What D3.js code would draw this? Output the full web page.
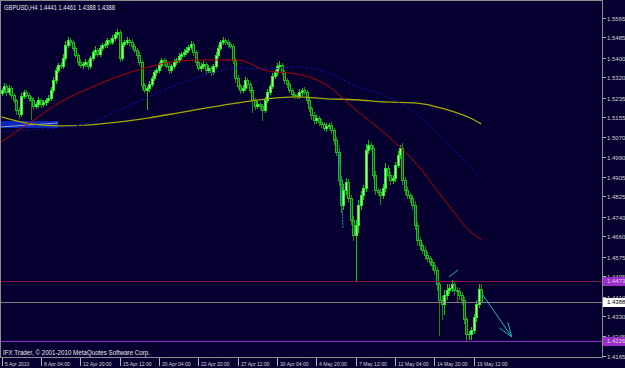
<!DOCTYPE html>
<html>
<head>
<meta charset="utf-8">
<script src="https://cdn.jsdelivr.net/npm/d3@7"></script>
<style>
html, body { margin: 0; padding: 0; background: #060030; overflow: hidden; }
svg { display: block; }
text { font-family: "Liberation Sans", Arial, sans-serif; }
</style>
</head>
<body>
<svg class="chart" width="625" height="368"></svg>
<script>
// GBPUSD H4, 5 Apr 2010 12:00 .. 20 May 2010 00:00
var opens = [
  1.5255, 1.5267, 1.5284, 1.5259, 1.5275, 1.5246, 1.5226, 1.5184, 1.5168, 1.5242,
  1.5259, 1.5246, 1.5234, 1.5226, 1.5201, 1.5209, 1.5226, 1.5209, 1.5217, 1.5226,
  1.5234, 1.5267, 1.5308, 1.5350, 1.5371, 1.5366, 1.5399, 1.5453, 1.5474, 1.5466,
  1.5441, 1.5412, 1.5383, 1.5371, 1.5375, 1.5383, 1.5366, 1.5399, 1.5424, 1.5433,
  1.5416, 1.5441, 1.5453, 1.5457, 1.5474, 1.5466, 1.5482, 1.5499, 1.5507, 1.5399,
  1.5457, 1.5466, 1.5474, 1.5466, 1.5449, 1.5433, 1.5412, 1.5383, 1.5288, 1.5267,
  1.5275, 1.5292, 1.5317, 1.5341, 1.5350, 1.5371, 1.5391, 1.5383, 1.5366, 1.5350,
  1.5366, 1.5383, 1.5391, 1.5408, 1.5416, 1.5424, 1.5433, 1.5445, 1.5457, 1.5424,
  1.5383, 1.5358, 1.5366, 1.5375, 1.5350, 1.5358, 1.5341, 1.5366, 1.5412, 1.5441,
  1.5466, 1.5474, 1.5466, 1.5457, 1.5449, 1.5391, 1.5317, 1.5284, 1.5267, 1.5275,
  1.5308, 1.5292, 1.5267, 1.5226, 1.5201, 1.5209, 1.5201, 1.5184, 1.5226, 1.5259,
  1.5284, 1.5325, 1.5341, 1.5366, 1.5371, 1.5341, 1.5308, 1.5292, 1.5267, 1.5250,
  1.5246, 1.5242, 1.5259, 1.5267, 1.5259, 1.5226, 1.5193, 1.5164, 1.5143, 1.5151,
  1.5135, 1.5126, 1.5110, 1.5118, 1.5122, 1.5101, 1.5060, 1.5010, 1.4894, 1.4791,
  1.4853, 1.4886, 1.4820, 1.4728, 1.4667, 1.4708, 1.4791, 1.4832, 1.4861, 1.5018,
  1.5039, 1.5027, 1.4915, 1.4853, 1.4845, 1.4832, 1.4861, 1.4944, 1.4915, 1.4894,
  1.4902, 1.4956, 1.4998, 1.5027, 1.4894, 1.4853, 1.4832, 1.4820, 1.4791, 1.4708,
  1.4646, 1.4625, 1.4604, 1.4584, 1.4571, 1.4555, 1.4542, 1.4522, 1.4460, 1.4397,
  1.4377, 1.4418, 1.4439, 1.4447, 1.4460, 1.4439, 1.4431, 1.4418, 1.4397, 1.4315,
  1.4253, 1.4253, 1.4273, 1.4323, 1.4377, 1.4441
];
var closes = [
  1.5267, 1.5284, 1.5259, 1.5275, 1.5246, 1.5226, 1.5184, 1.5168, 1.5242, 1.5259,
  1.5246, 1.5234, 1.5226, 1.5201, 1.5209, 1.5226, 1.5209, 1.5217, 1.5226, 1.5234,
  1.5267, 1.5308, 1.5350, 1.5371, 1.5366, 1.5399, 1.5453, 1.5474, 1.5466, 1.5441,
  1.5412, 1.5383, 1.5371, 1.5375, 1.5383, 1.5366, 1.5399, 1.5424, 1.5433, 1.5416,
  1.5441, 1.5453, 1.5457, 1.5474, 1.5466, 1.5482, 1.5499, 1.5507, 1.5399, 1.5457,
  1.5466, 1.5474, 1.5466, 1.5449, 1.5433, 1.5412, 1.5383, 1.5288, 1.5267, 1.5275,
  1.5292, 1.5317, 1.5341, 1.5350, 1.5371, 1.5391, 1.5383, 1.5366, 1.5350, 1.5366,
  1.5383, 1.5391, 1.5408, 1.5416, 1.5424, 1.5433, 1.5445, 1.5457, 1.5424, 1.5383,
  1.5358, 1.5366, 1.5375, 1.5350, 1.5358, 1.5341, 1.5366, 1.5412, 1.5441, 1.5466,
  1.5474, 1.5466, 1.5457, 1.5449, 1.5391, 1.5317, 1.5284, 1.5267, 1.5275, 1.5308,
  1.5292, 1.5267, 1.5226, 1.5201, 1.5209, 1.5201, 1.5184, 1.5226, 1.5259, 1.5284,
  1.5325, 1.5341, 1.5366, 1.5371, 1.5341, 1.5308, 1.5292, 1.5267, 1.5250, 1.5246,
  1.5242, 1.5259, 1.5267, 1.5259, 1.5226, 1.5193, 1.5164, 1.5143, 1.5151, 1.5135,
  1.5126, 1.5110, 1.5118, 1.5122, 1.5101, 1.5060, 1.5010, 1.4894, 1.4791, 1.4853,
  1.4886, 1.4820, 1.4728, 1.4667, 1.4708, 1.4791, 1.4832, 1.4861, 1.5018, 1.5039,
  1.5027, 1.4915, 1.4853, 1.4845, 1.4832, 1.4861, 1.4944, 1.4915, 1.4894, 1.4902,
  1.4956, 1.4998, 1.5027, 1.4894, 1.4853, 1.4832, 1.4820, 1.4791, 1.4708, 1.4646,
  1.4625, 1.4604, 1.4584, 1.4571, 1.4555, 1.4542, 1.4522, 1.4460, 1.4397, 1.4377,
  1.4418, 1.4439, 1.4447, 1.4460, 1.4439, 1.4431, 1.4418, 1.4397, 1.4315, 1.4253,
  1.4253, 1.4273, 1.4323, 1.4377, 1.4441, 1.4388
];
// wick lengths above / below the body, in pips
var wickUp = [
  8, 10, 6, 12, 7, 9, 5, 10, 14, 8,
  9, 6, 8, 12, 7, 10, 6, 9, 8, 11,
  10, 14, 12, 8, 10, 15, 18, 12, 9, 7,
  8, 6, 10, 9, 12, 7, 10, 8, 14, 9,
  11, 8, 13, 9, 10, 12, 9, 14, 8, 10,
  9, 12, 8, 10, 7, 9, 11, 6, 8, 10,
  12, 9, 10, 8, 11, 9, 7, 10, 12, 8,
  10, 9, 11, 8, 13, 10, 9, 14, 8, 7,
  9, 12, 10, 8, 11, 9, 10, 12, 14, 9,
  13, 8, 10, 9, 7, 8, 10, 9, 12, 11,
  8, 9, 10, 7, 12, 9, 8, 11, 10, 9,
  12, 9, 14, 16, 8, 10, 9, 7, 8, 10,
  9, 11, 8, 10, 7, 9, 8, 10, 12, 9,
  10, 8, 12, 9, 10, 8, 12, 10, 14, 22,
  16, 12, 10, 14, 18, 20, 15, 12, 24, 20,
  12, 10, 14, 9, 11, 15, 18, 12, 10, 13,
  12, 15, 12, 20, 10, 12, 9, 11, 14, 10,
  12, 9, 14, 10, 8, 12, 10, 9, 14, 16,
  18, 22, 14, 20, 12, 10, 14, 9, 12, 10,
  14, 12, 16, 18, 20, 20
];
var wickDn = [
  10, 8, 12, 9, 14, 10, 16, 17, 8, 10,
  9, 12, 80, 14, 10, 12, 15, 9, 12, 8,
  10, 7, 12, 9, 8, 10, 7, 9, 12, 8,
  10, 12, 8, 14, 9, 11, 8, 10, 12, 9,
  8, 10, 9, 12, 8, 10, 9, 11, 14, 10,
  9, 10, 12, 8, 10, 14, 12, 16, 10, 80,
  14, 10, 9, 12, 10, 8, 11, 9, 14, 10,
  8, 10, 9, 12, 7, 10, 8, 9, 11, 14,
  10, 12, 9, 14, 10, 12, 8, 9, 10, 8,
  9, 10, 12, 8, 14, 16, 10, 12, 9, 10,
  12, 10, 50, 14, 10, 12, 40, 9, 10, 8,
  10, 9, 12, 8, 10, 14, 12, 10, 9, 11,
  10, 9, 12, 10, 14, 12, 18, 16, 12, 14,
  12, 10, 14, 10, 12, 16, 14, 20, 30, 18,
  16, 20, 18, 24, 194, 30, 20, 16, 12, 14,
  10, 14, 18, 16, 40, 14, 12, 10, 16, 12,
  14, 10, 12, 16, 18, 14, 20, 16, 18, 22,
  16, 14, 18, 12, 14, 16, 20, 24, 145, 60,
  40, 20, 16, 14, 18, 40, 20, 16, 14, 27,
  18, 20, 16, 14, 12, 0
];

// moving averages, read every 12 bars
var maIdx    = [0, 12, 24, 36, 48, 60, 72, 84, 96, 108, 120, 132, 144, 156, 168, 180, 192, 195];
var maRed    = [1.5052, 1.5134, 1.5217, 1.5275, 1.5325, 1.5362, 1.5387, 1.5391, 1.5391, 1.5346, 1.5333, 1.5288, 1.5184, 1.5085, 1.4969, 1.4811, 1.4667, 1.4646];
var maBlue   = [1.5093, 1.5101, 1.5110, 1.5130, 1.5184, 1.5238, 1.5292, 1.5333, 1.5358, 1.5354, 1.5362, 1.5341, 1.5284, 1.5242, 1.5172, 1.5060, 1.4932, 1.4902];
var maYellow = [1.5155, 1.5126, 1.5118, 1.5122, 1.5134, 1.5151, 1.5172, 1.5193, 1.5213, 1.5230, 1.5238, 1.5230, 1.5226, 1.5217, 1.5213, 1.5188, 1.5143, 1.5126];

var timeIdx = [0, 16, 32, 48, 64, 80, 96, 112, 128, 144, 160, 176, 192];
var timeLabels = ["5 Apr 2010", "8 Apr 04:00", "12 Apr 20:00", "15 Apr 12:00", "20 Apr 04:00", "22 Apr 20:00",
  "27 Apr 12:00", "30 Apr 04:00", "4 May 20:00", "7 May 12:00", "12 May 04:00", "14 May 20:00", "19 May 12:00"];
var priceTicks = [1.5565, 1.5485, 1.5400, 1.5320, 1.5235, 1.5155, 1.5070, 1.4990, 1.4905, 1.4825,
  1.4740, 1.4660, 1.4575, 1.4495, 1.4410, 1.4330, 1.4245, 1.4165];

// drawn objects (bar index, price)
var hLevels = [1.4473, 1.4226];
var bidPrice = 1.4388;
var trendLines = [
  {i0: 137.2, p0: 1.5039, i1: 138.8, p1: 1.4694, dotted: true},
  {i0: 181.9, p0: 1.4491, i1: 185.6, p1: 1.4520, dotted: false}
];
var arrowLine = {i0: 195.7, p0: 1.4416, i1: 207.4, p1: 1.4243};
var boxObj = {i0: -0.6, i1: 23, p0: 1.5138, p1: 1.5109};

var svg = d3.select(".chart"),
    width = +svg.attr("width"),
    height = +svg.attr("height");

var bg = "#060030";
var plotR = 602, plotB = 357;

var x = d3.scaleLinear().domain([0, 195]).range([1.5, 481.2]);
var y = d3.scaleLinear().domain([1.4165, 1.5565]).range([355.6, 18]);

svg.append("rect").attr("width", width).attr("height", height).attr("fill", bg);

svg.append("clipPath").attr("id", "clip")
  .append("rect").attr("x", 1).attr("y", 1).attr("width", plotR - 1).attr("height", plotB - 1);

var plot = svg.append("g").attr("clip-path", "url(#clip)");

// rectangle object bottom-left
plot.append("rect")
  .attr("x", x(boxObj.i0)).attr("width", x(boxObj.i1) - x(boxObj.i0))
  .attr("y", y(boxObj.p0)).attr("height", y(boxObj.p1) - y(boxObj.p0))
  .attr("fill", "#0a28b4");
plot.append("line")
  .attr("x1", x(boxObj.i0)).attr("y1", y(boxObj.p1) - 1)
  .attr("x2", x(boxObj.i1)).attr("y2", y(boxObj.p0) + 2)
  .attr("stroke", "#8c96e6").attr("stroke-width", 1);

var bars = closes.map(function(c, i) {
  var o = opens[i];
  return {i: i, o: o, c: c,
    h: Math.max(o, c) + wickUp[i] / 10000,
    l: Math.min(o, c) - wickDn[i] / 10000};
});

function px(d) { return Math.round(x(d.i)); }

// wicks
plot.append("g").selectAll("line")
  .data(bars)
  .enter().append("line")
  .attr("x1", function(d) { return px(d) + 0.5; })
  .attr("x2", function(d) { return px(d) + 0.5; })
  .attr("y1", function(d) { return Math.round(y(d.h)); })
  .attr("y2", function(d) { return Math.round(y(d.l)) + 1; })
  .attr("stroke", function(d) { return d.c >= d.o ? "#00d000" : "#109010"; })
  .attr("shape-rendering", "crispEdges");

// bodies
var body = plot.append("g").selectAll("g")
  .data(bars)
  .enter().append("g");

function bodyTop(d) { return Math.round(y(Math.max(d.o, d.c))); }
function bodyH(d) { return Math.max(1, Math.round(y(Math.min(d.o, d.c))) - bodyTop(d) + 1); }

body.append("rect")
  .attr("x", function(d) { return px(d) - 1; })
  .attr("width", 3)
  .attr("y", bodyTop)
  .attr("height", bodyH)
  .attr("fill", function(d) { return d.c >= d.o ? "#22ee22" : "#28b428"; })
  .attr("shape-rendering", "crispEdges");

body.append("rect")
  .attr("x", function(d) { return px(d); })
  .attr("width", 1)
  .attr("y", function(d) { return bodyTop(d) + 1; })
  .attr("height", function(d) { return Math.max(0, bodyH(d) - 2); })
  .attr("fill", function(d) { return d.c >= d.o ? "#b4ffa8" : "#0b500b"; })
  .attr("shape-rendering", "crispEdges");

// moving averages
function maLine(vals) {
  return d3.line()
    .x(function(d, k) { return x(maIdx[k]); })
    .y(function(d) { return y(d); })
    .curve(d3.curveMonotoneX)(vals);
}

plot.append("path").attr("d", maLine(maYellow))
  .attr("fill", "none").attr("stroke", "#a8a800").attr("stroke-width", 1.3);
plot.append("path").attr("d", maLine(maBlue))
  .attr("fill", "none").attr("stroke", "#1010a8").attr("stroke-width", 1)
  .attr("stroke-dasharray", "3,2");
plot.append("path").attr("d", maLine(maRed))
  .attr("fill", "none").attr("stroke", "#b40000").attr("stroke-width", 1);

// horizontal levels
plot.append("line")
  .attr("x1", 0).attr("x2", plotR)
  .attr("y1", Math.round(y(hLevels[0])) + 0.5).attr("y2", Math.round(y(hLevels[0])) + 0.5)
  .attr("stroke", "#7a1840");
plot.append("line")
  .attr("x1", 0).attr("x2", plotR)
  .attr("y1", Math.round(y(hLevels[1])) + 0.5).attr("y2", Math.round(y(hLevels[1])) + 0.5)
  .attr("stroke", "#8c28c8");
plot.append("line")
  .attr("x1", 0).attr("x2", plotR)
  .attr("y1", Math.round(y(bidPrice)) + 0.5).attr("y2", Math.round(y(bidPrice)) + 0.5)
  .attr("stroke", "#808078");

// trend lines
trendLines.forEach(function(t) {
  plot.append("line")
    .attr("x1", x(t.i0)).attr("y1", y(t.p0))
    .attr("x2", x(t.i1)).attr("y2", y(t.p1))
    .attr("stroke", t.dotted ? "#12a0b4" : "#1eb4b4")
    .attr("stroke-dasharray", t.dotted ? "2,1" : null);
});

// arrow
var ax0 = x(arrowLine.i0), ay0 = y(arrowLine.p0),
    ax1 = x(arrowLine.i1), ay1 = y(arrowLine.p1);
var ang = Math.atan2(ay0 - ay1, ax0 - ax1);
plot.append("line")
  .attr("x1", ax0).attr("y1", ay0).attr("x2", ax1).attr("y2", ay1)
  .attr("stroke", "#1eb4c0");
[-0.35, 0.35].forEach(function(da) {
  plot.append("line")
    .attr("x1", ax1).attr("y1", ay1)
    .attr("x2", ax1 + 15 * Math.cos(ang + da)).attr("y2", ay1 + 15 * Math.sin(ang + da))
    .attr("stroke", "#1eb4c0");
});

// frame and axes
svg.append("path")
  .attr("d", "M0.5," + plotB + ".5V0.5H" + plotR + ".5V" + plotB + ".5H0")
  .attr("fill", "none").attr("stroke", "#8c8c8c")
  .attr("shape-rendering", "crispEdges");

var fmt = d3.format(".4f");
var yAxis = svg.append("g");
priceTicks.forEach(function(p) {
  var ty = Math.round(y(p)) + 0.5;
  yAxis.append("line").attr("x1", plotR + 1).attr("x2", plotR + 4)
    .attr("y1", ty).attr("y2", ty).attr("stroke", "#b4b4b4");
  yAxis.append("text").attr("x", 607).attr("y", ty + 2.2)
    .attr("font-size", "6px").attr("fill", "#d2d2d2")
    .text(fmt(p));
});

// price boxes
function priceBox(p, fill, color) {
  var by = Math.round(y(p));
  svg.append("rect").attr("x", plotR + 1).attr("y", by - 4).attr("width", 22).attr("height", 9)
    .attr("fill", fill);
  svg.append("text").attr("x", 607).attr("y", by + 2.4)
    .attr("font-size", "6px").attr("fill", color).text(fmt(p));
}
priceBox(hLevels[0], "#9b30c8", "#e6c8f0");
priceBox(bidPrice, "#ffffff", "#000000");
priceBox(hLevels[1], "#9b30c8", "#e6c8f0");

var xAxis = svg.append("g");
timeIdx.forEach(function(idx, k) {
  var tx = Math.round(x(idx)) + 0.5;
  xAxis.append("line").attr("x1", tx).attr("x2", tx)
    .attr("y1", plotB + 1).attr("y2", plotB + 9).attr("stroke", "#b4b4b4");
  var t = xAxis.append("text").attr("x", tx + 2.5).attr("y", 366)
    .attr("font-size", "6px").attr("fill", "#d2d2d2")
    .text(timeLabels[k]);
  var w = t.node().getComputedTextLength();
  t.attr("textLength", w * 0.84).attr("lengthAdjust", "spacingAndGlyphs");
});

// texts
svg.append("text").attr("x", 4).attr("y", 10)
  .attr("font-size", "6.5px").attr("fill", "#e6e6e6")
  .attr("textLength", 111).attr("lengthAdjust", "spacingAndGlyphs")
  .text("GBPUSD,H4  1.4441 1.4461 1.4388 1.4388");
svg.append("text").attr("x", 3).attr("y", 355)
  .attr("font-size", "6.5px").attr("fill", "#e6e6e6")
  .attr("textLength", 147).attr("lengthAdjust", "spacingAndGlyphs")
  .text("IFX Trader, \u00a9 2001-2010 MetaQuotes Software Corp.");
</script>
</body>
</html>
